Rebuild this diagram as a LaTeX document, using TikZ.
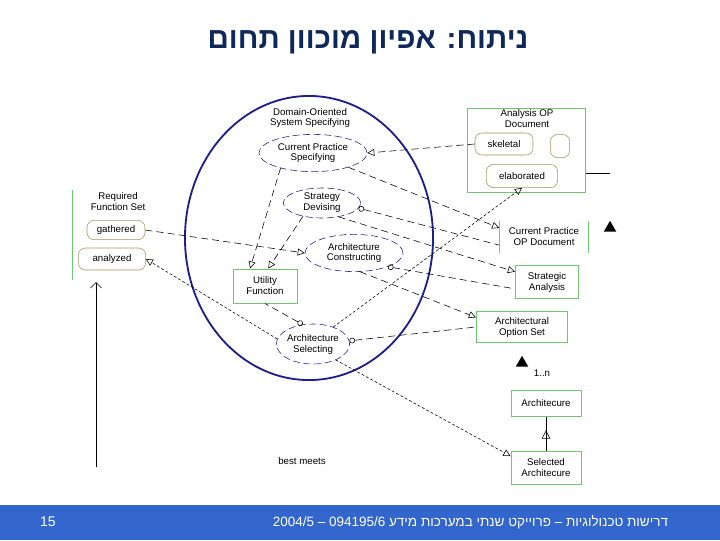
\documentclass[tikz,border=0pt]{standalone}
\usepackage{fontspec}
\setmainfont{Liberation Sans}
\newfontfamily\hebfont[Script=Hebrew]{Liberation Sans}
\TeXXeTstate=1
\usetikzlibrary{shapes.geometric,arrows.meta,calc,decorations.markings}
\definecolor{actblue}{RGB}{30,30,140}
\definecolor{objgreen}{RGB}{110,200,110}
\definecolor{stateolive}{RGB}{165,150,95}
\definecolor{titlenavy}{RGB}{15,40,90}
\definecolor{barblue}{RGB}{51,102,204}
\tikzstyle{labelsty}=[font=\fontsize{6.9}{7.8}\selectfont]
\tikzstyle{activity}=[ellipse, draw=actblue, dash pattern=on 5pt off 2.5pt, inner sep=0pt, align=center, labelsty]
\tikzstyle{objbox}=[rectangle, draw=objgreen, line width=0.7pt, inner sep=0pt, align=center, labelsty]
\tikzstyle{statebox}=[rectangle, rounded corners=5pt, draw=stateolive, inner sep=0pt, labelsty]
\tikzstyle{flow}=[dash pattern=on 5pt off 3pt, -{Triangle[open,length=5pt,width=5pt]}]
\tikzstyle{inflow}=[dash pattern=on 5pt off 3pt, {Circle[open,length=4pt]}-]
\tikzstyle{fineflow}=[dash pattern=on 2pt off 1.5pt, -{Triangle[open,length=5pt,width=5pt]}]
\tikzstyle{marker}=[regular polygon, regular polygon sides=3, fill=black, inner sep=0pt, minimum size=0.36cm]

\begin{document}
\begin{tikzpicture}[x=0.025cm,y=-0.025cm]
				\fill[white] (0,0) rectangle (720,540);
				\useasboundingbox (0,0) rectangle (720,540);
				\node[font=\hebfont\fontsize{21}{24}\selectfont\bfseries, text=titlenavy] (title) at (368,42) {\beginR ניתוח: אפיון מוכוון תחום\endR};
				
				% domain-oriented system specifying
				\draw[actblue, line width=1.3pt] (309,238) ellipse (3.1cm and 3.55cm);
				\node[labelsty, align=center] (dos) at (310,118) {Domain-Oriented\\System Specifying};
				\node[activity, minimum width=2.7cm, minimum height=0.93cm] (cps) at (313,153) {Current Practice\\Specifying};
				\node[activity, minimum width=1.93cm, minimum height=0.75cm] (sd) at (322,203) {Strategy\\Devising};
				\node[activity, minimum width=2.45cm, minimum height=0.93cm] (ac) at (354,253) {Architecture\\Constructing};
				\node[activity, minimum width=1.83cm, minimum height=1cm] (asel) at (313,344) {Architecture\\Selecting};
				\node[objbox, minimum width=1.6cm, minimum height=0.85cm] (uf) at (265,286) {Utility\\Function};
				
				% required function set
				\coordinate (rfstop) at (72,190);
				\coordinate (rfsbot) at (72,280);
				\draw[objgreen, line width=0.7pt] (rfstop) -- (rfsbot);
				\node[labelsty, align=center] (rfs) at (118,202) {Required\\Function Set};
				\node[statebox, minimum width=1.45cm, minimum height=0.48cm] (gath) at (116,230) {gathered};
				\node[statebox, minimum width=1.68cm, minimum height=0.55cm] (anal) at (112,259) {analyzed};
				\coordinate (src) at (96,467);
				\coordinate (rfsin) at (96,282);
				\draw[-{Straight Barb[length=4pt]}] (src) -- (rfsin);
				
				% analysis op document
				\node[objbox, minimum width=2.95cm, minimum height=2.1cm] (aopd) at (526,150) {};
				\node[labelsty, align=center] (aopdlbl) at (527,119) {Analysis OP\\Document};
				\node[statebox, minimum width=1.45cm, minimum height=0.55cm] (skel) at (504,144) {skeletal};
				\node[statebox, minimum width=0.48cm, minimum height=0.58cm] (blank) at (560,146) {};
				\node[statebox, minimum width=1.78cm, minimum height=0.58cm] (elab) at (522,176) {elaborated};
				\coordinate (aopdout) at (610,173);
				\draw (aopd.east |- aopdout) -- (aopdout);
				
				% right column
				\node[labelsty, align=center, minimum width=2.23cm, minimum height=0.8cm, inner sep=0pt] (cpod) at (544,237) {Current Practice\\OP Document};
				\draw[objgreen, line width=0.7pt] (cpod.north west) -- (cpod.south west);
				\draw[objgreen, line width=0.7pt] (cpod.north east) -- (cpod.south east);
				\node[marker] (tri1) at (610,228) {};
				\node[objbox, minimum width=1.58cm, minimum height=0.83cm] (sa) at (547,282) {Strategic\\Analysis};
				\node[objbox, minimum width=2.28cm, minimum height=0.78cm] (aos) at (522,327) {Architectural\\Option Set};
				\node[marker] (tri2) at (522,363) {};
				\node[labelsty] (mult) at (542,373) {1..n};
				\node[objbox, minimum width=1.75cm, minimum height=0.65cm] (arch) at (546,403) {Architecure};
				\node[objbox, minimum width=1.75cm, minimum height=0.83cm] (sela) at (546,468) {Selected\\Architecure};
				\draw[postaction={decorate}, decoration={markings, mark=at position 0.6 with {\arrow{Triangle[open,length=6pt,width=6pt]}}}] (sela.north) -- (arch.south);
				\node[labelsty] (best) at (302,461) {best meets};
				
				% flows
				\draw[flow] (skel.west) -- (cps.east);
				\draw[flow] (cps.-22) -- ($(cpod.north west)!0.22!(cpod.south west)$);
				\draw[inflow] (sd.-8) -- ($(cpod.north west)!0.75!(cpod.south west)$);
				\draw[flow] (sd.-40) -- ($(sa.north west)!0.2!(sa.south west)$);
				\draw[inflow] (ac.-22) -- ($(sa.north west)!0.7!(sa.south west)$);
				\draw[flow] (ac.-72) -- ($(aos.north west)!0.2!(aos.south west)$);
				\draw[inflow] (asel.5) -- (aos.west);
				\draw[fineflow] (asel.40) -- (elab.south);
				\draw[flow] (cps.205) -- ($(uf.north west)!0.27!(uf.north east)$);
				\draw[flow] (sd.215) -- ($(uf.north west)!0.55!(uf.north east)$);
				\draw[flow] (gath.east) -- (ac.west);
				\draw[inflow] (asel.118) -- (uf.south);
				\draw[fineflow] (asel.172) -- (anal.east);
				\draw[fineflow] (asel.-35) -- ($(sela.north west)!0.15!(sela.south west)$);
				
				% footer
				\fill[barblue] (0,505) rectangle (720,540);
				\node[text=white, font=\fontsize{10}{12}\selectfont] (pagenum) at (48,522) {15};
				\node[text=white, font=\hebfont\fontsize{9.6}{12}\selectfont, anchor=east] (footer) at (673,522) {\beginR דרישות טכנולוגיות – פרוייקט שנתי במערכות מידע \beginL094195/6\endL{} – \beginL2004/5\endL\endR};
			\end{tikzpicture}
\end{document}
